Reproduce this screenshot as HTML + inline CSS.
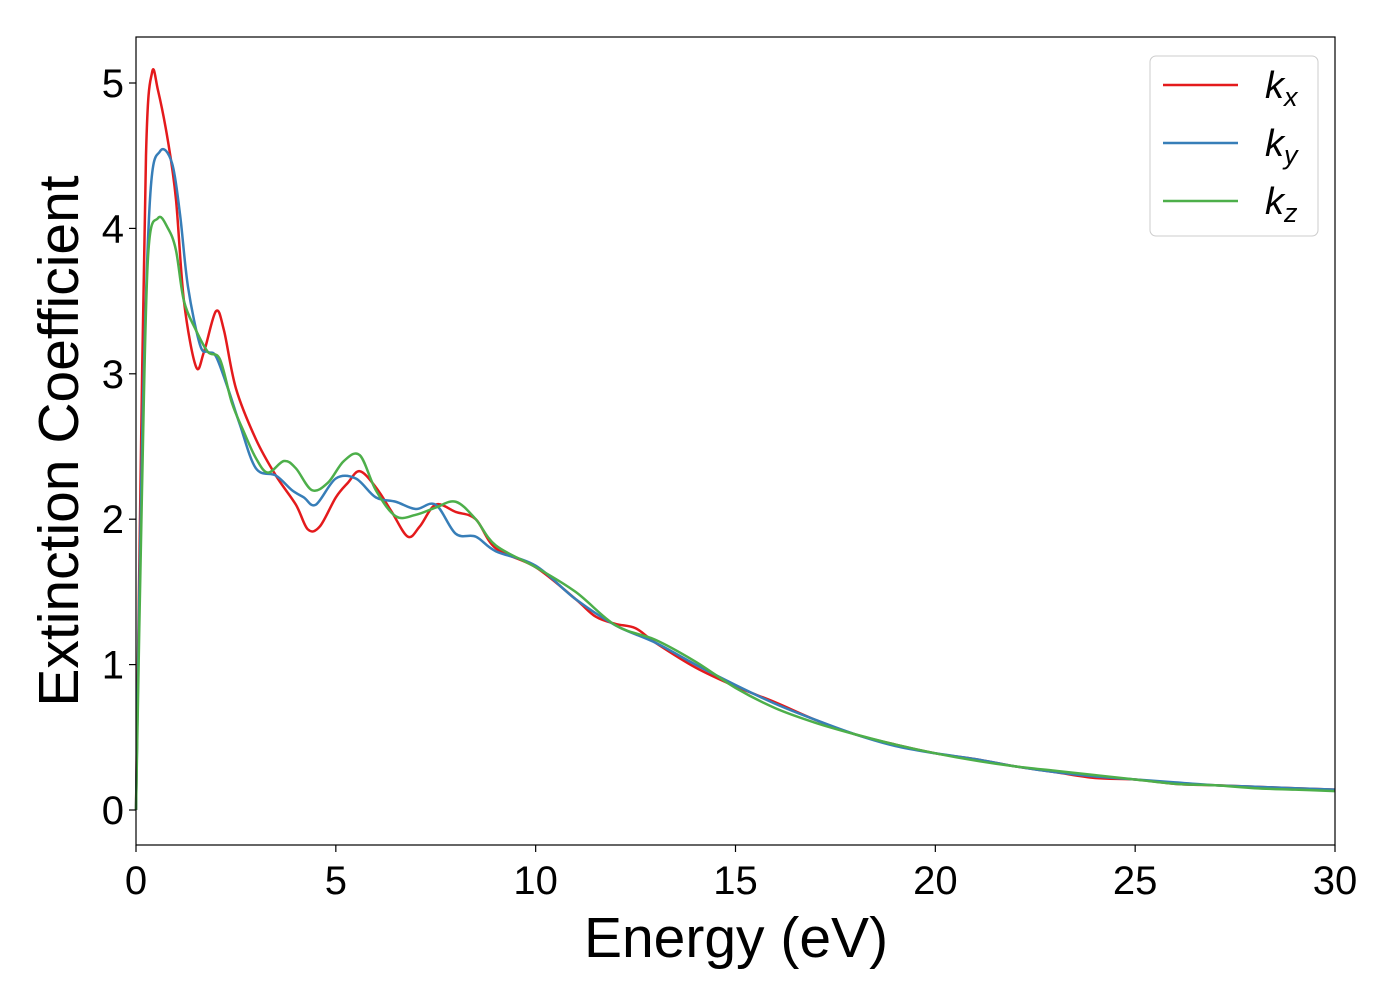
<!DOCTYPE html>
<html><head><meta charset="utf-8"><style>
html,body{margin:0;padding:0;background:#fff;}
svg{display:block;font-family:"Liberation Sans","DejaVu Sans",sans-serif;}
</style></head><body>
<svg id="chart" width="1400" height="1000" viewBox="0 0 1400 1000">
<g id="plot"></g>
<rect x="136" y="37" width="1199" height="808" fill="none" stroke="#000" stroke-width="1.2"/>
<g id="xt"></g>
<g id="yt"></g>
<text x="736" y="957" font-size="57" text-anchor="middle">Energy (eV)</text>
<text transform="translate(78,441) rotate(-90)" font-size="57" text-anchor="middle">Extinction Coefficient</text>
<g>
<rect x="1150" y="56" width="168" height="180" rx="6" fill="#fff" fill-opacity="0.8" stroke="#ccc"/>
<line x1="1163" y1="85" x2="1238" y2="85" stroke="#e41a1c" stroke-width="2.5"/>
<text x="1265" y="98" font-size="38" font-style="italic">k<tspan font-size="27" dy="8">x</tspan></text>
<line x1="1163" y1="143" x2="1238" y2="143" stroke="#377eb8" stroke-width="2.5"/>
<text x="1265" y="156" font-size="38" font-style="italic">k<tspan font-size="27" dy="8">y</tspan></text>
<line x1="1163" y1="201" x2="1238" y2="201" stroke="#4daf4a" stroke-width="2.5"/>
<text x="1265" y="214" font-size="38" font-style="italic">k<tspan font-size="27" dy="8">z</tspan></text>
</g>
</svg>
<script>
const xTicks=[0,5,10,15,20,25,30];
const yTicks=[0,1,2,3,4,5];
const energy=[0,0.1,0.25,0.4,0.55,0.8,1.0,1.2,1.5,1.7,2.0,2.2,2.5,3.0,3.5,4.0,4.3,4.6,5.0,5.3,5.6,6.0,6.4,6.8,7.1,7.5,8.0,8.5,9.0,10,11,11.5,12,12.5,13,14,15,16,17,18,19,20,21,22,23,24,25,26,27,28,29,30];
const kx=[0,2.0,4.5,5.07,4.95,4.6,4.2,3.5,3.05,3.15,3.43,3.3,2.9,2.55,2.3,2.1,1.93,1.95,2.15,2.25,2.33,2.22,2.05,1.88,1.95,2.1,2.05,2.0,1.8,1.67,1.45,1.33,1.28,1.25,1.15,0.98,0.85,0.74,0.62,0.52,0.45,0.39,0.35,0.3,0.26,0.22,0.21,0.18,0.17,0.16,0.15,0.14];
const energyY=[0,0.15,0.35,0.6,0.9,1.1,1.3,1.6,1.8,2.0,2.3,2.6,3.0,3.5,3.9,4.2,4.5,5.0,5.5,6.0,6.5,7.0,7.5,8.0,8.5,9.0,10,11,12,13,14,15,16,17,18,19,20,21,22,23,24,25,26,27,28,29,30];
const ky=[0,2.5,4.2,4.53,4.45,4.1,3.6,3.2,3.15,3.12,2.9,2.65,2.35,2.3,2.2,2.15,2.1,2.28,2.28,2.15,2.12,2.07,2.1,1.9,1.88,1.78,1.68,1.45,1.27,1.15,1.0,0.86,0.73,0.62,0.52,0.44,0.39,0.35,0.3,0.26,0.23,0.21,0.19,0.17,0.16,0.15,0.14];
const energyZ=[0,0.15,0.3,0.55,0.8,1.0,1.2,1.5,1.8,2.1,2.4,2.7,3.0,3.3,3.7,4.0,4.4,4.8,5.2,5.6,6.0,6.5,7.0,7.5,8.0,8.5,9.0,10,11,12,13,14,15,16,17,18,19,20,21,22,23,24,25,26,27,28,29,30];
const kz=[0,2.2,3.8,4.07,4.0,3.85,3.5,3.3,3.15,3.1,2.8,2.6,2.42,2.32,2.4,2.35,2.2,2.25,2.4,2.44,2.2,2.02,2.03,2.08,2.12,2.0,1.82,1.67,1.5,1.27,1.17,1.02,0.84,0.7,0.6,0.52,0.45,0.39,0.34,0.3,0.27,0.24,0.21,0.18,0.17,0.15,0.14,0.13];

const NS='http://www.w3.org/2000/svg';
const X=v=>136+v*(1199/30);
const Y=v=>810-v*145.4;
function mk(tag,attrs,parent){const e=document.createElementNS(NS,tag);for(const k in attrs)e.setAttribute(k,attrs[k]);parent.appendChild(e);return e;}
const xt=document.getElementById('xt'),yt=document.getElementById('yt'),plot=document.getElementById('plot');
xTicks.forEach(t=>{
  const l=mk('line',{x1:X(t),x2:X(t),y1:845,y2:852,stroke:'#000','stroke-width':1.2},xt);
  
  
  const tx=mk('text',{x:X(t),y:894,'font-size':40,'text-anchor':'middle'},xt);
  tx.textContent=t;
  
  
});
yTicks.forEach(t=>{
  const l=mk('line',{x1:129,x2:136,y1:Y(t),y2:Y(t),stroke:'#000','stroke-width':1.2},yt);
  
  
  const tx=mk('text',{x:124,y:Y(t)+14,'font-size':40,'text-anchor':'end'},yt);
  tx.textContent=t;
  
  
});
function pathD(xs,ys){
  const p=xs.map((x,i)=>[X(x),Y(ys[i])]);
  let d='M'+p[0][0]+','+p[0][1];
  for(let i=0;i<p.length-1;i++){
    const p0=p[Math.max(0,i-1)],p1=p[i],p2=p[i+1],p3=p[Math.min(p.length-1,i+2)];
    const c1=[p1[0]+(p2[0]-p0[0])/6,p1[1]+(p2[1]-p0[1])/6];
    const c2=[p2[0]-(p3[0]-p1[0])/6,p2[1]-(p3[1]-p1[1])/6];
    d+=` C${c1[0]},${c1[1]} ${c2[0]},${c2[1]} ${p2[0]},${p2[1]}`;
  }
  return d;
}
const s1=mk('path',{d:pathD(energy,kx),fill:'none',stroke:'#e41a1c','stroke-width':2.5},plot);


const s2=mk('path',{d:pathD(energyY,ky),fill:'none',stroke:'#377eb8','stroke-width':2.5},plot);


const s3=mk('path',{d:pathD(energyZ,kz),fill:'none',stroke:'#4daf4a','stroke-width':2.5},plot);


</script>
</body></html>
